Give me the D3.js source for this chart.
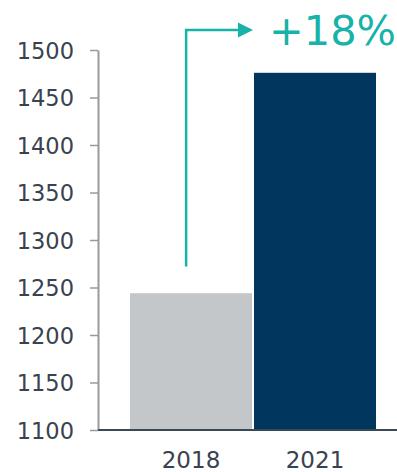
<!DOCTYPE html>
<html>
<head>
<meta charset="utf-8">
<script src="https://cdn.jsdelivr.net/npm/d3@7"></script>
<style>
  body { margin: 0; background: #fff; }
  svg { display: block; }
</style>
</head>
<body>
<svg id="chart" width="397" height="472"></svg>
<script>
const years = ["2018", "2021"];
const values = [1244, 1476];
const yTicks = [1100, 1150, 1200, 1250, 1300, 1350, 1400, 1450, 1500];
const changeLabel = "+18%";

const barColors = ["#c4c7ca", "#01365e"];
const teal = "#17b2a8";
const textColor = "#38434f";

const svg = d3.select("#chart");

const x = d3.scaleBand().domain(years).range([130, 376]).paddingInner(0.016).paddingOuter(0);
const y = d3.scaleLinear().domain([1100, 1500]).range([430, 50]);

// bars
svg.selectAll(".bar")
  .data(years)
  .join("rect")
  .attr("class", "bar")
  .attr("x", (d) => x(d))
  .attr("y", (d, i) => y(values[i]))
  .attr("width", x.bandwidth())
  .attr("height", (d, i) => y(1100) - y(values[i]))
  .attr("fill", (d, i) => barColors[i]);

// y axis
const yAxis = svg.append("g")
  .attr("transform", "translate(98,0)")
  .call(d3.axisLeft(y).tickValues(yTicks).tickFormat(d3.format("d")).tickSize(8).tickPadding(16).tickSizeOuter(0));
yAxis.select(".domain").attr("stroke", "#9a9a9a").attr("stroke-width", 2);
yAxis.selectAll(".tick line").attr("stroke", "#9a9a9a").attr("stroke-width", 1.5);
yAxis.selectAll(".tick text")
  .attr("fill", textColor)
  .attr("font-family", "DejaVu Sans, Verdana, sans-serif")
  .attr("font-size", 22.5)
  .attr("dy", "0.36em");

// x axis
const xAxis = svg.append("g")
  .attr("transform", "translate(0,430)")
  .call(d3.axisBottom(x).tickSize(0).tickPadding(22));
xAxis.select(".domain").attr("d", "M98,0H397").attr("stroke", "#3b4856").attr("stroke-width", 2);
xAxis.selectAll(".tick text")
  .attr("fill", textColor)
  .attr("font-family", "DejaVu Sans, Verdana, sans-serif")
  .attr("font-size", 23)
  .attr("dy", "0.71em");

// growth arrow
const ax = x("2018") + x.bandwidth() * 0.46;
const ay0 = y(1272);
const ay1 = 30;
const tipX = x("2021") - 1;
svg.append("path")
  .attr("d", `M${ax},${ay0}V${ay1}H${tipX - 14}`)
  .attr("fill", "none")
  .attr("stroke", teal)
  .attr("stroke-width", 2.5);
svg.append("path")
  .attr("d", `M${tipX - 15},${ay1 - 7.5}L${tipX},${ay1}L${tipX - 15},${ay1 + 7.5}Z`)
  .attr("fill", teal);

svg.append("text")
  .attr("x", 269)
  .attr("y", 45)
  .attr("fill", teal)
  .attr("font-family", "DejaVu Sans, Verdana, sans-serif")
  .attr("font-size", 41.5)
  .text(changeLabel);
</script>
</body>
</html>
